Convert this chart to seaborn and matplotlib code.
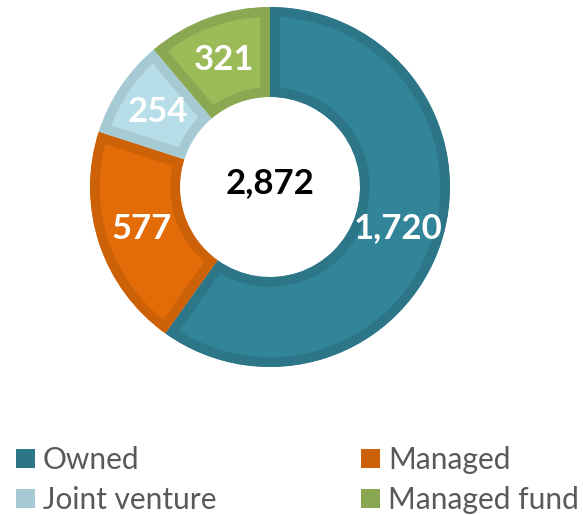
import matplotlib
matplotlib.use("Agg")
import matplotlib.pyplot as plt
import seaborn as sns
from matplotlib.patches import Patch

sns.set_theme(style="white")
plt.rcParams['font.family'] = ['Lato', 'DejaVu Sans']

categories = ["Owned", "Managed", "Joint venture", "Managed fund"]
values = [1720, 577, 254, 321]
total_label = "2,872"
face_colors = ["#328499", "#E36C09", "#B7DEE8", "#9BBB59"]
edge_colors = ["#2C7688", "#CC6108", "#A5CAD3", "#8AA852"]

fig = plt.figure(figsize=(5.83, 5.15), dpi=100)
W, H = 583, 515
cx, cy, R = 270, 187, 180
ax = fig.add_axes([(cx - R) / W, (H - cy - R) / H, 2 * R / W, 2 * R / H])

wedges, texts, autotexts = ax.pie(
    values, startangle=90, counterclock=False, radius=1.0,
    colors=face_colors,
    wedgeprops=dict(width=0.5, linewidth=0),
    autopct=lambda p: f"{p * sum(values) / 100:,.0f}", pctdistance=0.75,
    textprops=dict(color="white", fontsize=25, fontweight="bold"))

for w, ec in zip(wedges, edge_colors):
    w.set_edgecolor(ec)
    w.set_linewidth(14)
    w.set_clip_path(w)
    w.set_clip_on(True)

ax.text(0, 0.02, total_label, ha="center", va="center", fontsize=25,
        fontweight="bold", color="black")
ax.set_xlim(-1, 1)
ax.set_ylim(-1, 1)
ax.set_aspect("equal")
ax.axis("off")

handles = [Patch(facecolor=c, edgecolor="none") for c in edge_colors]
order = [0, 2, 1, 3]
leg = fig.legend([handles[i] for i in order], [categories[i] for i in order],
                 ncol=2, loc="upper left", bbox_to_anchor=(16 / W, 1 - 446 / H),
                 frameon=False, fontsize=21.5, handlelength=0.64, handleheight=0.64,
                 handletextpad=0.26, columnspacing=4.85, labelspacing=0.4,
                 borderaxespad=0, borderpad=0)
for t in leg.get_texts():
    t.set_color("#595959")

fig.savefig("out.png", dpi=100, facecolor="white")
